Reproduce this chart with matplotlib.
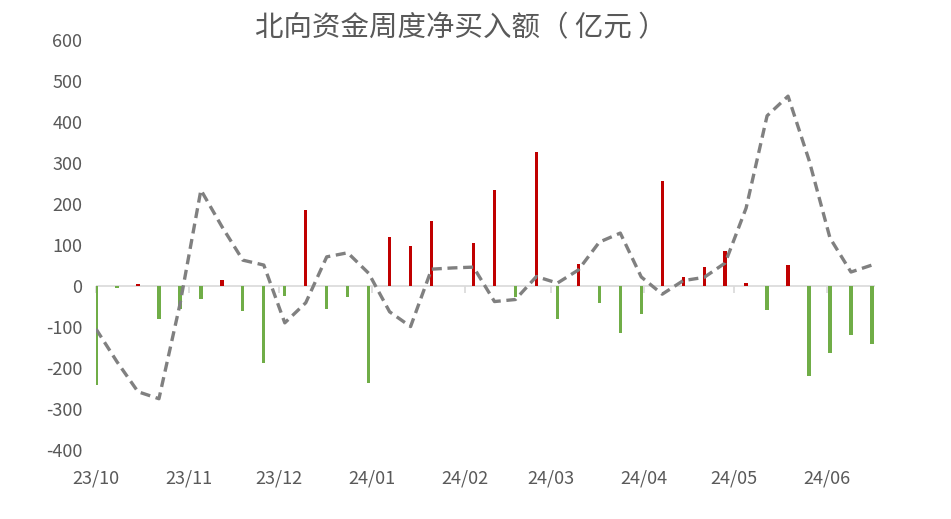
import numpy as np
import pandas as pd
import matplotlib
matplotlib.use('Agg')
from matplotlib import pyplot as plt

plt.rcParams['font.family'] = ['Noto Sans CJK SC', 'DejaVu Sans']
plt.rcParams['axes.unicode_minus'] = False

############### data ###################
weeks = pd.date_range('2023-10-01', periods=38, freq='7D')
net_buy = [-241, -5, 5, -80, -55, -32, 15, -60, -188, -24,
           185, -55, -26, -237, 120, 98, 158, np.nan, 105, 234,
           -27, 327, -80, 53, -41, -115, -68, 256, 22, 46,
           85, 7, -58, 51, -220, -163, -120, -141]
trend = [-105, -185, -258, -275, -45, 234, 145, 63, 51, -90,
         -41, 71, 81, 31, -63, -99, 41, 44, 46, -38,
         -33, 23, 7, 39, 107, 129, 22, -20, 13, 21,
         56, 190, 415, 463, 307, 117, 34, 51]
month_ticks = pd.date_range('2023-10-01', '2024-06-01', freq='MS')
month_labels = ['23/10', '23/11', '23/12', '24/01', '24/02',
                '24/03', '24/04', '24/05', '24/06']

############### plot ###################
fig = plt.figure(figsize=(9.51, 5.19), dpi=100)
ax = fig.add_axes([0.101, 0.133, 0.819, 0.790])

vals = np.array(net_buy, dtype=float)
colors = ['#c00000' if v >= 0 else '#70ad47' for v in np.nan_to_num(vals)]
ax.bar(weeks, vals, width=1.1, color=colors, zorder=2)
ax.plot(weeks, trend, color='#808080', lw=2.4, linestyle=(0, (3.0, 1.7)), zorder=3)

ax.axhline(0, color='#d9d9d9', lw=1.2, zorder=1)

ax.set_xlim(pd.Timestamp('2023-10-01'), pd.Timestamp('2024-06-17'))
ax.set_ylim(-400, 600)
ax.set_yticks(np.arange(-400, 601, 100))
ax.set_xticks(month_ticks)
ax.set_xticklabels(month_labels)

for s in ax.spines.values():
    s.set_visible(False)
ax.tick_params(axis='both', length=0, labelsize=13, colors='#595959')
ax.tick_params(axis='x', pad=14)
ax.tick_params(axis='y', pad=10)

# small month ticks on the zero line
sec = ax.secondary_xaxis(0.4)
sec.set_xticks(month_ticks)
sec.set_xticklabels([])
sec.spines['bottom'].set_visible(False)
sec.tick_params(axis='x', length=5, width=1.2, color='#d9d9d9', direction='out')

fig.text(0.485, 0.946, '北向资金周度净买入额（ 亿元 ）', ha='center', va='center',
         fontsize=20.5, color='#595959')

fig.savefig('out.png', dpi=100)
